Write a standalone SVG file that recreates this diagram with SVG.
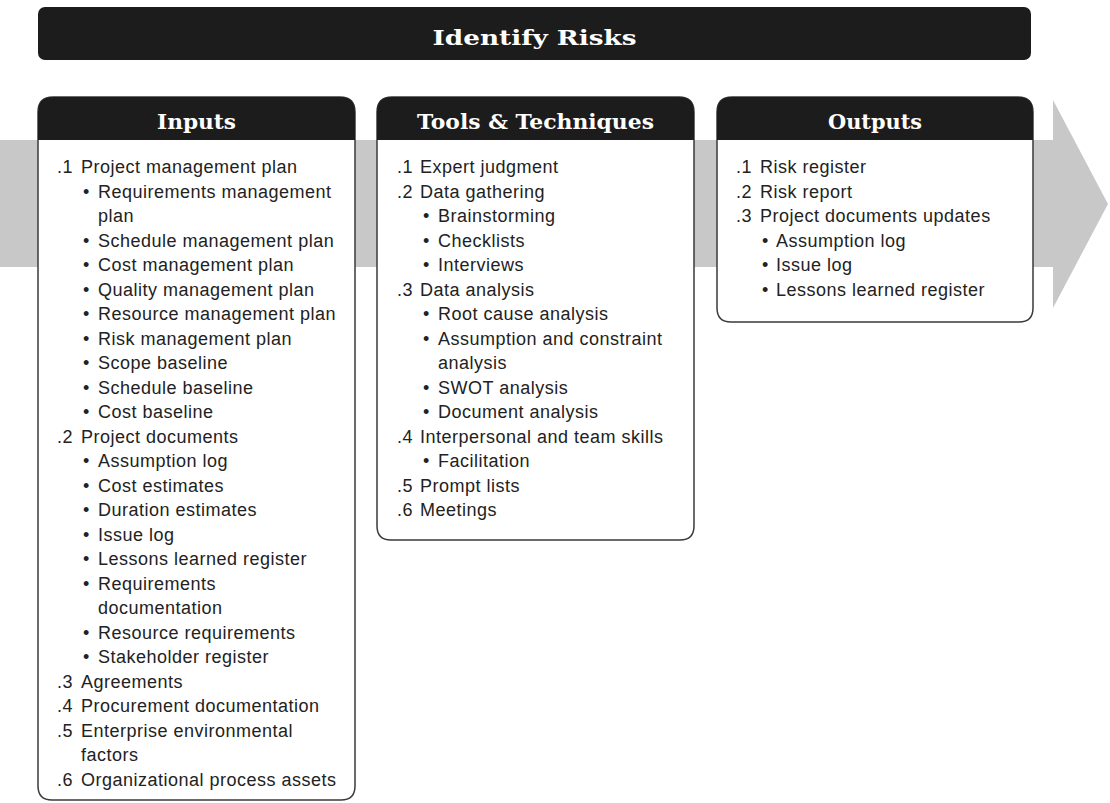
<svg xmlns="http://www.w3.org/2000/svg" width="1110" height="803" viewBox="0 0 1110 803">
<style>
.hdr{fill:#1c1c1c}
.box{fill:#fff;stroke:#3a3a3a;stroke-width:1.5}
.ht{font-family:"DejaVu Serif",serif;font-weight:bold;font-size:20px;fill:#fff;text-anchor:middle}
.t{font-family:"Liberation Sans",Arial,sans-serif;font-size:18px;letter-spacing:0.5px;fill:#222}
</style>
<rect width="1110" height="803" fill="#fff"/>
<g id="flow-arrow">
<path d="M0,140 H1053 V100 L1108,204 L1053,308 V267 H0 Z" fill="#c8c8c8"/>
</g>
<g id="title">
<rect x="38" y="7" width="993" height="53" rx="7" class="hdr"/>
<text x="534.5" y="45" class="ht" textLength="204" lengthAdjust="spacingAndGlyphs">Identify Risks</text>
</g>
<g id="inputs">
<path class="box" d="M53,97 H340 Q355,97 355,112 V786 Q355,800 341,800 H52 Q38,800 38,786 V112 Q38,97 53,97 Z"/>
<path class="hdr" d="M53,97 H340 Q355,97 355,112 V140 H38 V112 Q38,97 53,97 Z"/>
<text x="196.5" y="129" class="ht" textLength="79" lengthAdjust="spacingAndGlyphs">Inputs</text>
<text class="t">
<tspan x="57" y="173">.1</tspan><tspan x="81" y="173">Project management plan</tspan>
<tspan x="83" y="197.5">•</tspan><tspan x="98" y="197.5">Requirements management</tspan>
<tspan x="98" y="222">plan</tspan>
<tspan x="83" y="246.5">•</tspan><tspan x="98" y="246.5">Schedule management plan</tspan>
<tspan x="83" y="271">•</tspan><tspan x="98" y="271">Cost management plan</tspan>
<tspan x="83" y="295.5">•</tspan><tspan x="98" y="295.5">Quality management plan</tspan>
<tspan x="83" y="320">•</tspan><tspan x="98" y="320">Resource management plan</tspan>
<tspan x="83" y="344.5">•</tspan><tspan x="98" y="344.5">Risk management plan</tspan>
<tspan x="83" y="369">•</tspan><tspan x="98" y="369">Scope baseline</tspan>
<tspan x="83" y="393.5">•</tspan><tspan x="98" y="393.5">Schedule baseline</tspan>
<tspan x="83" y="418">•</tspan><tspan x="98" y="418">Cost baseline</tspan>
<tspan x="57" y="442.5">.2</tspan><tspan x="81" y="442.5">Project documents</tspan>
<tspan x="83" y="467">•</tspan><tspan x="98" y="467">Assumption log</tspan>
<tspan x="83" y="491.5">•</tspan><tspan x="98" y="491.5">Cost estimates</tspan>
<tspan x="83" y="516">•</tspan><tspan x="98" y="516">Duration estimates</tspan>
<tspan x="83" y="540.5">•</tspan><tspan x="98" y="540.5">Issue log</tspan>
<tspan x="83" y="565">•</tspan><tspan x="98" y="565">Lessons learned register</tspan>
<tspan x="83" y="589.5">•</tspan><tspan x="98" y="589.5">Requirements</tspan>
<tspan x="98" y="614">documentation</tspan>
<tspan x="83" y="638.5">•</tspan><tspan x="98" y="638.5">Resource requirements</tspan>
<tspan x="83" y="663">•</tspan><tspan x="98" y="663">Stakeholder register</tspan>
<tspan x="57" y="687.5">.3</tspan><tspan x="81" y="687.5">Agreements</tspan>
<tspan x="57" y="712">.4</tspan><tspan x="81" y="712">Procurement documentation</tspan>
<tspan x="57" y="736.5">.5</tspan><tspan x="81" y="736.5">Enterprise environmental</tspan>
<tspan x="81" y="761">factors</tspan>
<tspan x="57" y="785.5">.6</tspan><tspan x="81" y="785.5">Organizational process assets</tspan>
</text>
</g>
<g id="tools">
<path class="box" d="M392,97 H679 Q694,97 694,112 V526 Q694,540 680,540 H391 Q377,540 377,526 V112 Q377,97 392,97 Z"/>
<path class="hdr" d="M392,97 H679 Q694,97 694,112 V140 H377 V112 Q377,97 392,97 Z"/>
<text x="535.5" y="129" class="ht" textLength="237" lengthAdjust="spacingAndGlyphs">Tools &amp; Techniques</text>
<text class="t">
<tspan x="397" y="173">.1</tspan><tspan x="420" y="173">Expert judgment</tspan>
<tspan x="397" y="197.5">.2</tspan><tspan x="420" y="197.5">Data gathering</tspan>
<tspan x="423" y="222">•</tspan><tspan x="438" y="222">Brainstorming</tspan>
<tspan x="423" y="246.5">•</tspan><tspan x="438" y="246.5">Checklists</tspan>
<tspan x="423" y="271">•</tspan><tspan x="438" y="271">Interviews</tspan>
<tspan x="397" y="295.5">.3</tspan><tspan x="420" y="295.5">Data analysis</tspan>
<tspan x="423" y="320">•</tspan><tspan x="438" y="320">Root cause analysis</tspan>
<tspan x="423" y="344.5">•</tspan><tspan x="438" y="344.5">Assumption and constraint</tspan>
<tspan x="438" y="369">analysis</tspan>
<tspan x="423" y="393.5">•</tspan><tspan x="438" y="393.5">SWOT analysis</tspan>
<tspan x="423" y="418">•</tspan><tspan x="438" y="418">Document analysis</tspan>
<tspan x="397" y="442.5">.4</tspan><tspan x="420" y="442.5">Interpersonal and team skills</tspan>
<tspan x="423" y="467">•</tspan><tspan x="438" y="467">Facilitation</tspan>
<tspan x="397" y="491.5">.5</tspan><tspan x="420" y="491.5">Prompt lists</tspan>
<tspan x="397" y="516">.6</tspan><tspan x="420" y="516">Meetings</tspan>
</text>
</g>
<g id="outputs">
<path class="box" d="M732,97 H1018 Q1033,97 1033,112 V308 Q1033,322 1019,322 H731 Q717,322 717,308 V112 Q717,97 732,97 Z"/>
<path class="hdr" d="M732,97 H1018 Q1033,97 1033,112 V140 H717 V112 Q717,97 732,97 Z"/>
<text x="875" y="129" class="ht" textLength="94" lengthAdjust="spacingAndGlyphs">Outputs</text>
<text class="t">
<tspan x="736" y="173">.1</tspan><tspan x="760" y="173">Risk register</tspan>
<tspan x="736" y="197.5">.2</tspan><tspan x="760" y="197.5">Risk report</tspan>
<tspan x="736" y="222">.3</tspan><tspan x="760" y="222">Project documents updates</tspan>
<tspan x="762" y="246.5">•</tspan><tspan x="776" y="246.5">Assumption log</tspan>
<tspan x="762" y="271">•</tspan><tspan x="776" y="271">Issue log</tspan>
<tspan x="762" y="295.5">•</tspan><tspan x="776" y="295.5">Lessons learned register</tspan>
</text>
</g>
</svg>
